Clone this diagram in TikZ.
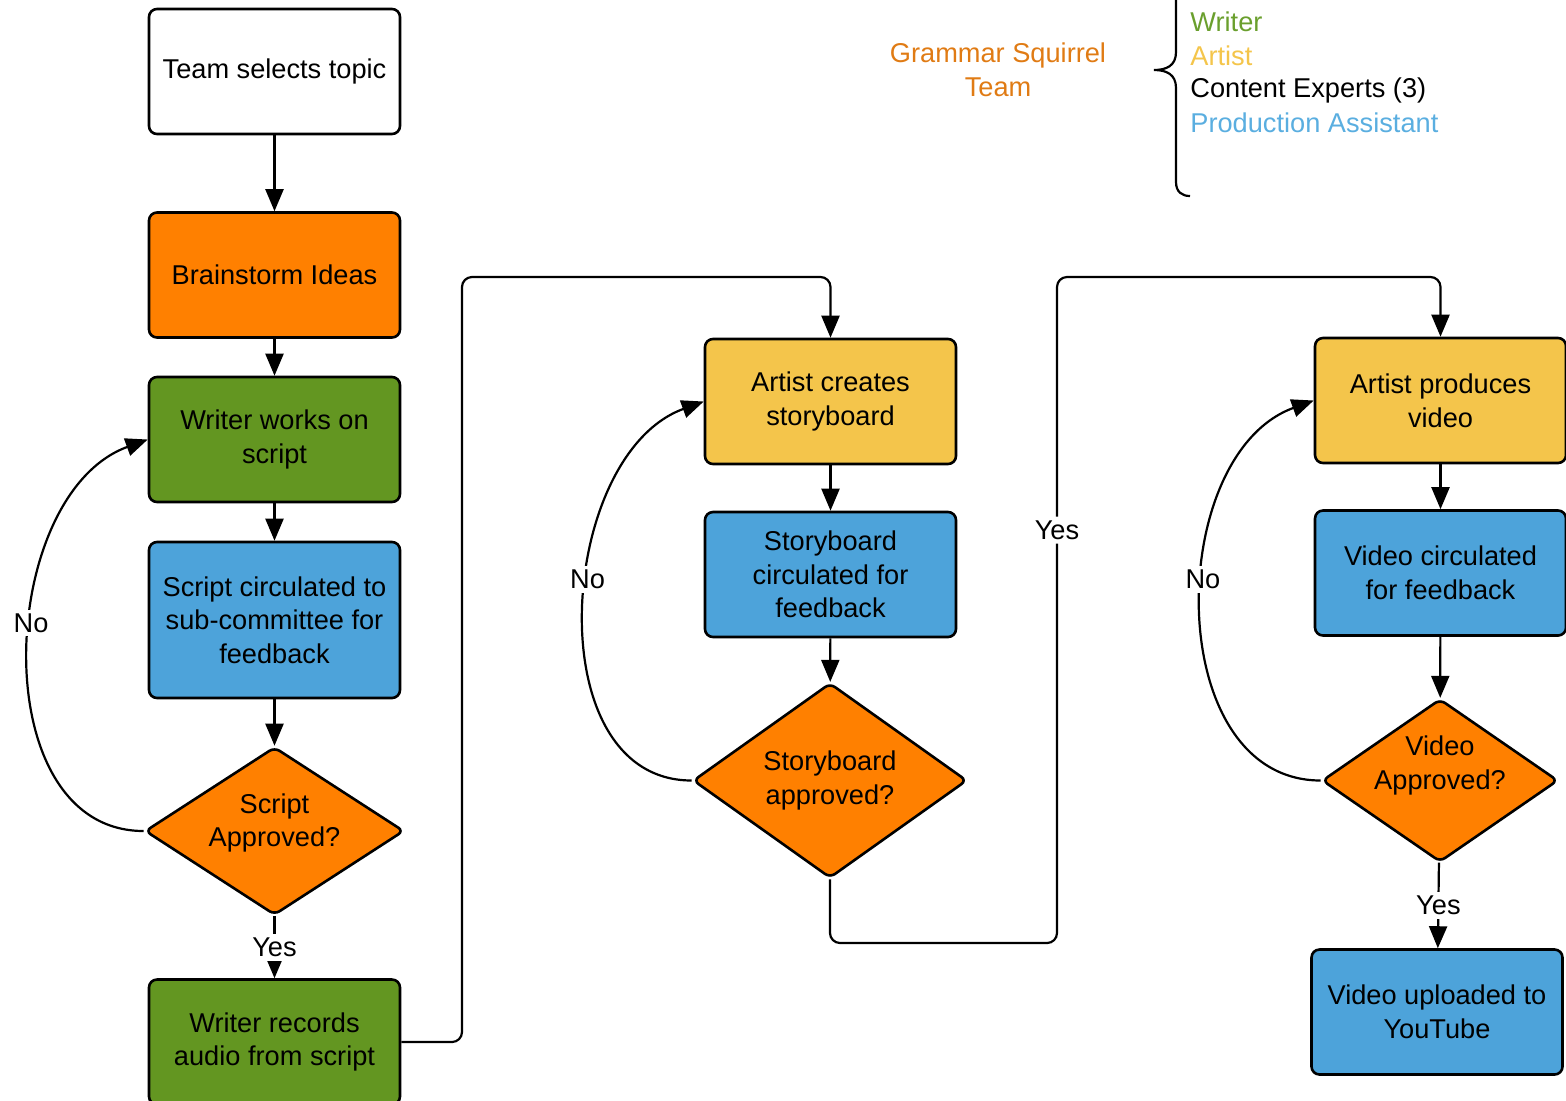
\documentclass[tikz,border=0pt]{standalone}
\usepackage{fontspec}
\setmainfont{Liberation Sans}
\usepackage{xcolor}
\usetikzlibrary{arrows.meta,shapes.geometric}
\definecolor{gsorange}{HTML}{FF8000}
\definecolor{gsgreen}{HTML}{639621}
\definecolor{gsblue}{HTML}{4DA3DA}
\definecolor{gsyellow}{HTML}{F4C54B}
\definecolor{gsdarkorange}{HTML}{E07B14}
\definecolor{gslightblue}{HTML}{5AAEE0}
\definecolor{gslegendgreen}{HTML}{6A9F2D}

\begin{document}
\begin{tikzpicture}[x=0.5pt, y=-0.5pt,
		every node/.style={font=\fontsize{13.6}{16.8}\selectfont, align=center},
		box/.style={draw, line width=1.3pt, rounded corners=4pt, minimum width=125.5pt, minimum height=62.5pt, inner sep=2pt},
		decision/.style={draw, diamond, line width=1.3pt, rounded corners=3pt, fill=gsorange, inner sep=0pt},
		arrow/.style={line width=1.1pt, -{Triangle[length=11pt,width=9pt]}},
		lbl/.style={fill=white, inner sep=2pt}]
		\useasboundingbox (0,0) rectangle (1566,1100);
		% first column
		\node[box, fill=white] (topic) at (274.5,71.5) {Team selects topic};
		\node[box, fill=gsorange] (brain) at (274.5,275) {Brainstorm Ideas};
		\node[box, fill=gsgreen] (work) at (274.5,439.5) {Writer works on\\script};
		\node[box, fill=gsblue, minimum height=78pt] (circ) at (274.5,620) {Script circulated to\\sub-committee for\\feedback};
		\node[decision, aspect=1.54, minimum width=129.5pt, minimum height=84pt,
			label={[yshift=4pt]center:{Script\\Approved?}}] (sappr) at (274.5,831) {};
		\node[box, fill=gsgreen] (rec) at (274.5,1042) {Writer records\\audio from script};
		% second column
		\node[box, fill=gsyellow] (create) at (830.5,401.5) {Artist creates\\storyboard};
		\node[box, fill=gsblue] (scirc) at (830.5,574.5) {Storyboard\\circulated for\\feedback};
		\node[decision, aspect=1.4, minimum width=137pt, minimum height=97.5pt] (sbappr) at (830,780.5) {Storyboard\\approved?};
		% third column
		\node[box, fill=gsyellow] (produce) at (1440.5,400.5) {Artist produces\\video};
		\node[box, fill=gsblue] (vcirc) at (1440.5,573) {Video circulated\\for feedback};
		\node[decision, aspect=1.45, minimum width=118pt, minimum height=81.5pt,
			label={[yshift=7.5pt]center:{Video\\Approved?}}] (vappr) at (1440,780.5) {};
		\node[box, fill=gsblue] (upload) at (1437,1012) {Video uploaded to\\YouTube};
		% bends
		\coordinate (A) at (462,277);
		\coordinate (B) at (1057,943);
		\coordinate (C) at (1057,277);
		% connectors
		\draw[arrow] (topic) -- (brain);
		\draw[arrow] (brain) -- (work);
		\draw[arrow] (work) -- (circ);
		\draw[arrow] (circ) -- (sappr);
		\draw[arrow] (sappr) -- node[lbl] {Yes} (rec);
		\draw[arrow] (sappr.west) to[out=180, in=200, looseness=1.05] node[lbl, pos=0.56] {No} (work.west);
		\draw[arrow, rounded corners=5pt] (rec.east) -| (A) -| (create.north);
		\draw[arrow] (create) -- (scirc);
		\draw[arrow] (scirc) -- (sbappr);
		\draw[arrow] (sbappr.west) to[out=180, in=200, looseness=1.05] node[lbl, pos=0.56] {No} (create.west);
		\draw[arrow, rounded corners=5pt] (sbappr.south) |- (B) -- node[lbl, pos=0.62] {Yes} (C) -| (produce.north);
		\draw[arrow] (produce) -- (vcirc);
		\draw[arrow] (vcirc) -- (vappr);
		\draw[arrow] (vappr.west) to[out=180, in=200, looseness=1.07] node[lbl, pos=0.56] {No} (produce.west);
		\draw[arrow] (vappr) -- node[lbl] {Yes} (upload);
		% legend
		\node[text=gsdarkorange] (team) at (998,70) {Grammar Squirrel\\Team};
		\draw[line width=1.1pt] (1176,-10) -- (1176,52) .. controls (1176,66) and (1166,70) .. (1154,70) .. controls (1166,70) and (1176,74) .. (1176,88) -- (1176,182) .. controls (1176,192) and (1182,196) .. (1190,196);
		\node[anchor=west, text=gslegendgreen, inner sep=0pt] (writer) at (1190,22) {Writer};
		\node[anchor=west, text=gsyellow, inner sep=0pt] (artist) at (1190,56) {Artist};
		\node[anchor=west, inner sep=0pt] (experts) at (1190,90) {Content Experts (3)};
		\node[anchor=west, text=gslightblue, inner sep=0pt] (assistant) at (1190,123) {Production Assistant};
	\end{tikzpicture}
\end{document}
